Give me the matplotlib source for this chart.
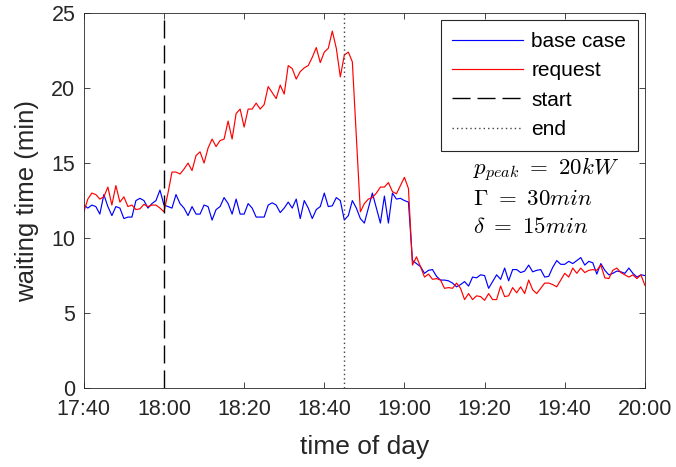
import numpy as np
import matplotlib
matplotlib.use("Agg")
import matplotlib.pyplot as plt

plt.rcParams["font.family"] = ["Liberation Sans", "DejaVu Sans"]
plt.rcParams["mathtext.fontset"] = "cm"

# minutes after 17:40, one sample per minute
minutes = np.arange(0, 141)

base_case = [
    12.2, 12.0, 12.2, 12.1, 11.6, 12.9, 12.1, 11.5, 12.1, 12.0,
    11.3, 11.4, 11.4, 12.5, 12.65, 12.5, 12.0, 12.3, 12.5, 13.2,
    12.2, 12.1, 12.0, 12.9, 12.3, 12.0, 11.5, 12.1, 11.6, 11.6,
    12.2, 12.1, 11.2, 11.9, 12.1, 12.7, 12.3, 11.6, 12.6, 11.6,
    11.6, 12.3, 12.0, 11.4, 11.4, 11.4, 12.2, 12.35, 12.2, 11.7,
    12.0, 12.4, 12.0, 12.6, 11.3, 12.5, 12.0, 11.3, 11.9, 12.1,
    13.0, 12.1, 12.15, 12.7, 12.5, 11.2, 11.5, 12.5, 12.0, 11.3,
    11.0, 12.0, 13.0, 12.0, 11.0, 12.8, 11.0, 13.0, 12.6, 12.65,
    12.5, 12.4, 8.5, 8.3, 8.1, 7.65, 7.85, 7.9, 7.45, 7.2,
    7.2, 7.15, 7.0, 6.75, 6.9, 7.1, 6.8, 7.4, 7.35, 7.55,
    7.5, 6.65, 7.1, 7.55, 7.25, 8.0, 7.15, 7.9, 7.9, 7.7,
    7.8, 8.2, 7.75, 7.85, 7.9, 7.4, 7.45, 8.05, 8.5, 8.25,
    8.25, 8.45, 8.3, 8.5, 8.7, 8.2, 8.45, 8.35, 7.6, 8.3,
    7.85, 7.55, 7.65, 7.8, 7.75, 7.65, 8.0, 7.65, 7.4, 7.55,
    7.5,
]

request = [
    11.75, 12.6, 13.0, 12.9, 12.6, 12.75, 13.4, 12.2, 13.5, 12.4,
    12.75, 12.1, 12.2, 11.9, 11.95, 12.25, 12.1, 12.2, 12.2, 12.0,
    11.75, 13.0, 14.4, 14.4, 14.27, 14.6, 15.0, 14.5, 15.5, 15.75,
    15.0, 16.0, 16.6, 16.1, 16.5, 16.6, 17.8, 16.6, 18.3, 18.6,
    17.4, 18.6, 18.6, 19.0, 18.6, 18.9, 20.1, 19.7, 19.3, 20.2,
    19.6, 21.5, 21.3, 20.6, 21.1, 21.35, 21.5, 22.05, 22.7, 21.7,
    22.4, 22.65, 23.8, 22.65, 20.75, 22.2, 22.4, 21.75, 16.8, 11.75,
    12.3, 12.6, 12.7, 13.0, 13.4, 13.4, 13.7, 13.1, 12.95, 13.5,
    14.05, 13.3, 8.2, 8.75, 8.1, 7.4, 7.6, 7.25, 7.3, 7.2,
    6.65, 6.7, 6.65, 7.0, 6.65, 5.9, 6.3, 5.9, 6.15, 6.1,
    5.85, 6.3, 5.9, 5.9, 6.8, 6.1, 6.15, 6.7, 6.35, 6.75,
    6.3, 7.2, 6.55, 6.3, 6.65, 7.0, 7.0, 6.9, 6.75, 7.2,
    7.65, 7.4, 8.0, 7.65, 8.0, 7.7, 7.85, 7.9, 7.85, 8.2,
    7.35, 7.3, 7.85, 8.0, 7.7, 7.55, 7.4, 7.55, 7.3, 7.55,
    6.85,
]

start_min = 20   # 18:00
end_min = 65     # 18:45

xtick_pos = [0, 20, 40, 60, 80, 100, 120, 140]
xtick_labels = ["17:40", "18:00", "18:20", "18:40", "19:00", "19:20", "19:40", "20:00"]
ytick_pos = [0, 5, 10, 15, 20, 25]

params = [r"$p_{peak}\ =\ 20kW$", r"$\Gamma\ =\ 30min$", r"$\delta\ =\ 15min$"]

fig = plt.figure(figsize=(6.76, 4.67), dpi=100)
ax = fig.add_axes([0.124, 0.169, 0.830, 0.803])

ax.plot(minutes, base_case, color=(0, 0, 1), lw=0.85, label="base case")
ax.plot(minutes, request, color=(1, 0, 0), lw=0.85, label="request")
ax.axvline(start_min, color="black", lw=1.0, dashes=(13, 5), label="start")
ax.axvline(end_min, color="#404040", lw=1.0, dashes=(1, 2.2), label="end")

ax.set_xlim(0, 140)
ax.set_ylim(0, 25)
ax.set_xticks(xtick_pos)
ax.set_xticklabels(xtick_labels)
ax.set_yticks(ytick_pos)
ax.tick_params(direction="in", length=4.5, width=0.6, labelsize=15.5,
               top=True, right=True, colors="#262626", labelcolor="#262626")
ax.tick_params(axis="x", pad=8)
ax.tick_params(axis="y", pad=6)
for sp in ax.spines.values():
    sp.set_linewidth(0.6)
    sp.set_color("#262626")

ax.set_xlabel("time of day", fontsize=19, color="#262626", labelpad=11)
ax.set_ylabel("waiting time (min)", fontsize=18.5, color="#262626", labelpad=9)

leg = ax.legend(loc="upper right", fontsize=15, handlelength=3.4,
                fancybox=False, framealpha=1, edgecolor="#262626",
                borderaxespad=0.35, labelspacing=0.5, handletextpad=0.4,
                borderpad=0.55)
leg.get_frame().set_linewidth(0.8)

for i, txt in enumerate(params):
    ax.text(0.693, 0.581 - i * 0.075, txt, transform=ax.transAxes,
            fontsize=16.5, va="center", ha="left")

fig.savefig("out.png", dpi=100)
